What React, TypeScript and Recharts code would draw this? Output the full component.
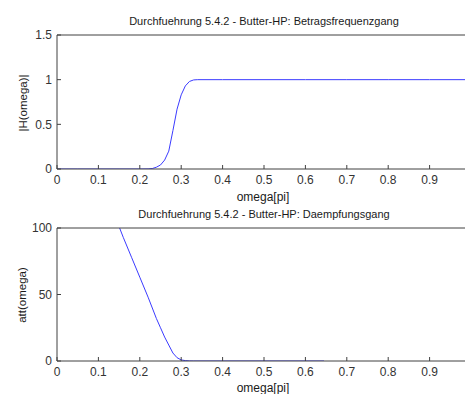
import { LineChart, Line, XAxis, YAxis } from "recharts";

// |H(omega)| of the Butterworth high-pass
const magW = [0, 0.05, 0.1, 0.15, 0.2, 0.22, 0.23, 0.24, 0.25, 0.26, 0.27, 0.28, 0.29, 0.3, 0.31, 0.32, 0.33, 0.34, 0.4, 0.5, 0.6, 0.7, 0.8, 0.9, 1.0];
const magH = [0, 0, 0, 0, 0, 0.001, 0.005, 0.02, 0.045, 0.1, 0.2, 0.43, 0.67, 0.83, 0.93, 0.98, 0.997, 1, 1, 1, 1, 1, 1, 1, 1];

// attenuation in dB
const attW = [0.1, 0.12, 0.14, 0.15, 0.16, 0.18, 0.2, 0.22, 0.24, 0.25, 0.26, 0.27, 0.28, 0.29, 0.3, 0.31, 0.32, 0.33, 0.4, 0.5, 0.6, 0.645];
const attDb = [140, 125, 108, 101, 93, 78, 63, 48, 32, 25, 18, 12, 6, 2.5, 0.8, 0.3, 0.05, 0, 0, 0, 0, 0];

const xTicks = [0, 0.1, 0.2, 0.3, 0.4, 0.5, 0.6, 0.7, 0.8, 0.9];
const magTicks = [0, 0.5, 1, 1.5];
const attTicks = [0, 50, 100];

const magData = magW.map((w, i) => ({ w, v: magH[i] }));
const attData = attW.map((w, i) => ({ w, v: attDb[i] }));

const AXIS = "#404040";
const TEXT = "#1a1a1a";
const LINE = "#3b3bff";
const tickStyle = { fontSize: 12, fill: "#333" };

const textStyle = {
  position: "absolute" as const,
  fontSize: 11,
  lineHeight: "13px",
  color: TEXT,
  whiteSpace: "nowrap" as const,
  transform: "translate(-50%, -50%)",
};

type PlotProps = {
  data: { w: number; v: number }[];
  yDomain: [number, number];
  yTicks: number[];
  top: number;
  height: number;
  marginTop: number;
};

const Plot = ({ data, yDomain, yTicks, top, height, marginTop }: PlotProps) => (
  <div style={{ position: "absolute", left: 0, top }}>
    <LineChart width={490} height={height} data={data} margin={{ top: marginTop, right: 19, bottom: 0, left: 0 }}>
      <XAxis
        dataKey="w"
        type="number"
        domain={[0, 1]}
        ticks={xTicks}
        allowDataOverflow
        height={25}
        stroke={AXIS}
        tickSize={-4}
        tickMargin={10}
        tick={tickStyle}
      />
      <XAxis
        xAxisId="top"
        orientation="top"
        dataKey="w"
        type="number"
        domain={[0, 1]}
        ticks={xTicks}
        height={1}
        stroke={AXIS}
        tickSize={-4}
        tick={false}
      />
      <YAxis
        type="number"
        domain={yDomain}
        ticks={yTicks}
        allowDataOverflow
        width={57}
        stroke={AXIS}
        tickSize={-4}
        tickMargin={9}
        tick={tickStyle}
      />
      <Line type="linear" dataKey="v" stroke={LINE} strokeWidth={1} dot={false} isAnimationActive={false} />
    </LineChart>
  </div>
);

export default function App() {
  return (
    <div
      style={{
        position: "absolute",
        left: 0,
        top: 0,
        width: 465,
        height: 394,
        overflow: "hidden",
        background: "#fff",
        fontFamily: '"Liberation Sans", Arial, sans-serif',
      }}
    >
      <div style={{ ...textStyle, left: 264, top: 21 }}>Durchfuehrung 5.4.2 - Butter-HP: Betragsfrequenzgang</div>
      <div style={{ ...textStyle, left: 264, top: 214 }}>Durchfuehrung 5.4.2 - Butter-HP: Daempfungsgang</div>
      <div style={{ ...textStyle, fontSize: 12, left: 263, top: 197 }}>omega[pi]</div>
      <div style={{ ...textStyle, fontSize: 12, left: 263, top: 388 }}>omega[pi]</div>
      <div style={{ ...textStyle, fontSize: 11.5, left: 23, top: 103, transform: "translate(-50%, -50%) rotate(-90deg)" }}>|H(omega)|</div>
      <div style={{ ...textStyle, fontSize: 11.5, left: 22, top: 295, transform: "translate(-50%, -50%) rotate(-90deg)" }}>att(omega)</div>

      <Plot data={magData} yDomain={[0, 1.5]} yTicks={magTicks} top={0} height={194} marginTop={34} />
      <Plot data={attData} yDomain={[0, 100]} yTicks={attTicks} top={200} height={186} marginTop={27} />
    </div>
  );
}
